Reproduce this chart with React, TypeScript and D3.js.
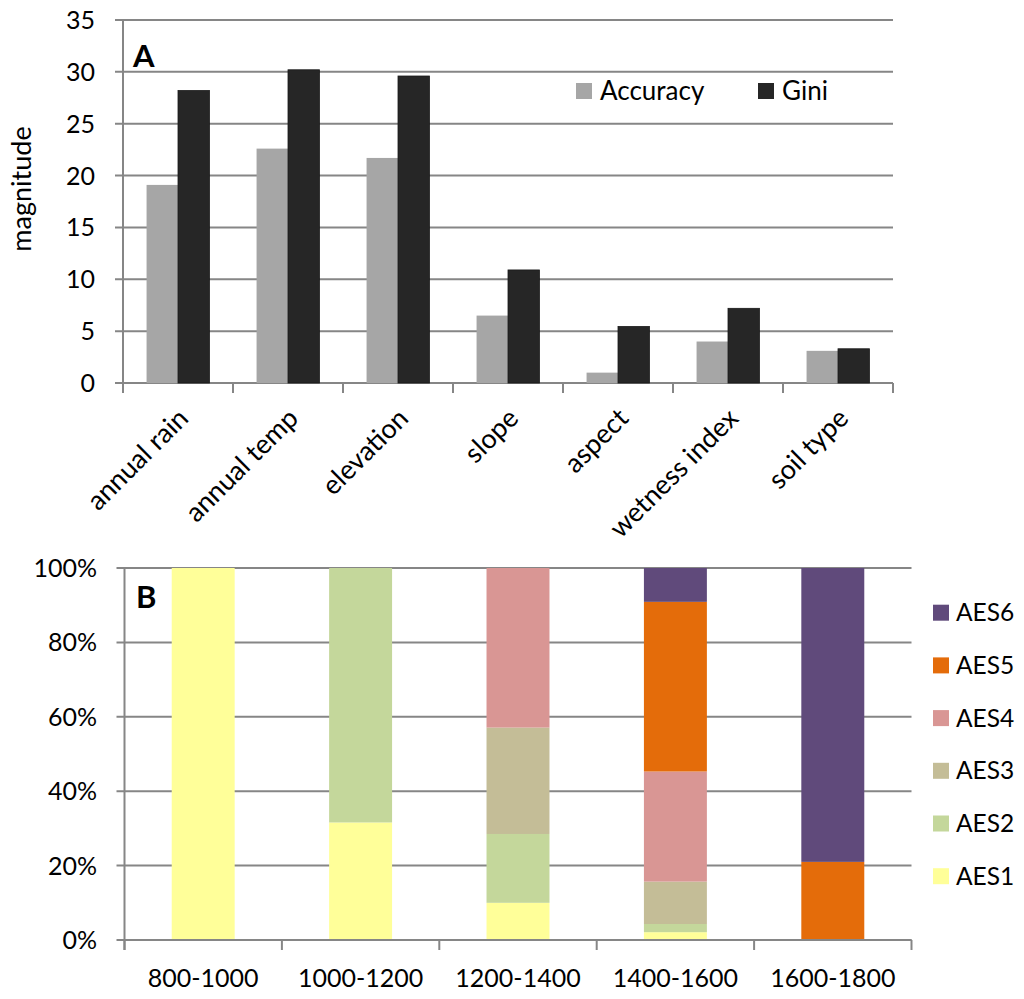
import React from "react";
import * as d3 from "d3";

const variables = ["annual rain", "annual temp", "elevation", "slope", "aspect", "wetness index", "soil type"];
const accuracy = [19.1, 22.6, 21.7, 6.5, 1.0, 4.0, 3.1];
const gini = [28.2, 30.2, 29.6, 10.9, 5.45, 7.2, 3.3];
const magnitudeTicks = [0, 5, 10, 15, 20, 25, 30, 35];

const elevBands = ["800-1000", "1000-1200", "1200-1400", "1400-1600", "1600-1800"];
const aesNames = ["AES1", "AES2", "AES3", "AES4", "AES5", "AES6"];
const aesColors = ["#FFFF99", "#C4D79B", "#C4BD97", "#D99694", "#E46C0A", "#604A7B"];
const aes1 = [100, 31.6, 10.0, 2.1, 0];
const aes2 = [0, 68.4, 18.5, 2.2, 0];
const aes3 = [0, 0, 28.6, 11.4, 0];
const aes4 = [0, 0, 42.9, 29.6, 0];
const aes5 = [0, 0, 0, 45.6, 21.0];
const aes6 = [0, 0, 0, 9.1, 79.0];
const pctTicks = [0, 20, 40, 60, 80, 100];

const FONT = "Lato, 'Open Sans', sans-serif";
const GRID = "#868686";

export default function App() {
  // Chart A
  const ax0 = 123, ax1 = 893, ayTop = 20, ayBot = 383;
  const xA = d3.scaleBand<string>().domain(variables).range([ax0, ax1]).paddingInner(0).paddingOuter(0);
  const yA = d3.scaleLinear().domain([0, 35]).range([ayBot, ayTop]);
  const bw = xA.bandwidth();
  const groupW = bw / 1.75;
  const inner = d3.scaleBand<string>().domain(["acc", "gini"]).range([0, groupW]);

  // Chart B
  const bx0 = 124.5, bx1 = 911.5, byTop = 568, byBot = 940;
  const xB = d3.scaleBand<string>().domain(elevBands).range([bx0, bx1]);
  const yB = d3.scaleLinear().domain([0, 100]).range([byBot, byTop]);
  const bbw = xB.bandwidth() / 2.5;
  const table = elevBands.map((b, i) => ({
    band: b,
    AES1: aes1[i], AES2: aes2[i], AES3: aes3[i], AES4: aes4[i], AES5: aes5[i], AES6: aes6[i],
  }));
  const stacked = d3.stack<any>().keys(aesNames)(table);

  const tickFs = 25;

  return (
    <svg width={1024} height={999} style={{ position: "absolute", left: 0, top: 0, background: "#fff" }} fontFamily={FONT}>
      <rect x={0} y={0} width={1024} height={999} fill="#fff" />
      {/* ===== Chart A ===== */}
      {magnitudeTicks.map((t) => (
        <g key={"ga" + t}>
          <line x1={ax0 - 8} x2={ax1} y1={yA(t)} y2={yA(t)} stroke={GRID} strokeWidth={2} />
          <text x={95} y={yA(t)} dy="0.36em" textAnchor="end" fontSize={tickFs} fill="#000">{t}</text>
        </g>
      ))}
      <line x1={ax0} x2={ax0} y1={ayTop} y2={ayBot + 10} stroke={GRID} strokeWidth={2} />
      {variables.map((v, i) => (
        <g key={v}>
          <rect x={(xA(v) as number) + (bw - groupW) / 2 + (inner("acc") as number)} y={yA(accuracy[i])}
            width={inner.bandwidth()} height={yA(0) - yA(accuracy[i])} fill="#A6A6A6" />
          <rect x={(xA(v) as number) + (bw - groupW) / 2 + (inner("gini") as number)} y={yA(gini[i])}
            width={inner.bandwidth()} height={yA(0) - yA(gini[i])} fill="#262626" stroke="#1a1a1a" strokeWidth={0.8} />
        </g>
      ))}
      {d3.range(variables.length + 1).map((k) => {
        const x = ax0 + k * bw;
        return <line key={"ta" + k} x1={x} x2={x} y1={ayBot} y2={ayBot + 10} stroke={GRID} strokeWidth={2} />;
      })}
      {variables.map((v) => {
        const cx = (xA(v) as number) + bw / 2;
        return (
          <text key={"la" + v} transform={`translate(${cx + 12},${420}) rotate(-45)`} textAnchor="end" fontSize={27} fill="#000">{v}</text>
        );
      })}
      <text transform={`translate(31,189) rotate(-90)`} textAnchor="middle" fontSize={27} fill="#000">magnitude</text>
      <text x={133} y={67} fontSize={31} fontWeight="bold" fill="#000">A</text>
      {/* legend A */}
      <rect x={576} y={83} width={16} height={16} fill="#A6A6A6" />
      <text x={600} y={91} dy="0.35em" fontSize={26} fill="#000">Accuracy</text>
      <rect x={758} y={83} width={16} height={16} fill="#262626" />
      <text x={782} y={91} dy="0.35em" fontSize={26} fill="#000">Gini</text>

      {/* ===== Chart B ===== */}
      {pctTicks.map((t) => (
        <g key={"gb" + t}>
          <line x1={bx0 - 8} x2={bx1} y1={yB(t)} y2={yB(t)} stroke={GRID} strokeWidth={2} />
          <text x={97} y={yB(t)} dy="0.36em" textAnchor="end" fontSize={tickFs} fill="#000">{t}%</text>
        </g>
      ))}
      {stacked.map((s, si) => (
        <g key={"s" + si} fill={aesColors[si]}>
          {s.map((d, i) => (
            d[1] - d[0] > 0 ? (
              <rect key={i} x={(xB(elevBands[i]) as number) + (xB.bandwidth() - bbw) / 2} y={yB(d[1])}
                width={bbw} height={yB(d[0]) - yB(d[1])} />
            ) : null
          ))}
        </g>
      ))}
      <line x1={bx0} x2={bx0} y1={byTop} y2={byBot + 10} stroke={GRID} strokeWidth={2} />
      <line x1={bx0} x2={bx1} y1={byBot} y2={byBot} stroke={GRID} strokeWidth={2} />
      {d3.range(elevBands.length + 1).map((k) => {
        const x = bx0 + k * xB.bandwidth();
        return <line key={"tb" + k} x1={x} x2={x} y1={byBot} y2={byBot + 10} stroke={GRID} strokeWidth={2} />;
      })}
      {elevBands.map((b) => (
        <text key={"lb" + b} x={(xB(b) as number) + xB.bandwidth() / 2} y={987} textAnchor="middle" fontSize={tickFs} fill="#000">{b}</text>
      ))}
      <text x={136} y={608} fontSize={31} fontWeight="bold" fill="#000">B</text>
      {/* legend B */}
      {aesNames.slice().reverse().map((n, k) => {
        const idx = aesNames.length - 1 - k;
        const cy = 612.7 + k * 52.7;
        return (
          <g key={"lg" + n}>
            <rect x={933} y={cy - 8} width={16} height={16} fill={aesColors[idx]} />
            <text x={956} y={cy} dy="0.35em" fontSize={24.5} fill="#000">{n}</text>
          </g>
        );
      })}
    </svg>
  );
}
